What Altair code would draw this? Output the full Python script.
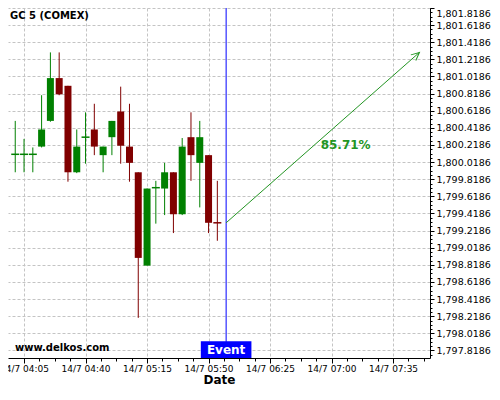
import altair as alt
import pandas as pd

# ---------------- data ----------------
times = ["04:00", "04:05", "04:10", "04:15", "04:20", "04:25", "04:30", "04:35",
         "04:40", "04:45", "04:50", "04:55", "05:00", "05:05", "05:10", "05:15",
         "05:20", "05:25", "05:30", "05:35", "05:40", "05:45", "05:50", "05:55"]
opens = [1800.11, 1800.11, 1800.11, 1800.20, 1800.50, 1801.00, 1800.91, 1799.90,
         1800.31, 1800.40, 1800.10, 1800.31, 1800.61, 1800.20, 1799.90, 1798.81,
         1799.72, 1799.71, 1799.90, 1799.41, 1800.31, 1800.01, 1800.10, 1799.31]
highs = [1800.50, 1800.29, 1800.19, 1800.80, 1801.30, 1801.30, 1800.91, 1800.40,
         1800.60, 1800.70, 1800.20, 1800.50, 1800.90, 1800.70, 1799.90, 1799.71,
         1799.80, 1800.01, 1799.90, 1800.30, 1800.60, 1800.50, 1800.10, 1799.80]
lows = [1799.90, 1799.90, 1799.90, 1800.19, 1800.49, 1800.80, 1799.79, 1799.89,
        1800.00, 1800.10, 1799.90, 1800.10, 1800.00, 1799.79, 1798.20, 1798.81,
        1799.30, 1799.40, 1799.19, 1799.40, 1799.80, 1799.49, 1799.19, 1799.10]
closes = [1800.11, 1800.11, 1800.11, 1800.40, 1801.00, 1800.81, 1799.90, 1800.20,
          1800.31, 1800.20, 1800.20, 1800.50, 1800.21, 1800.01, 1798.90, 1799.71,
          1799.72, 1799.90, 1799.41, 1800.20, 1800.10, 1800.31, 1799.31, 1799.31]
directions = ["up", "up", "up", "up", "up", "down", "down", "up",
              "up", "down", "up", "up", "down", "down", "down", "up",
              "up", "up", "down", "up", "down", "up", "down", "down"]

event_time = "06:00"
arrow_times = ["06:00", "07:50"]
arrow_prices = [1799.31, 1801.30]
pct_text = "85.71%"
pct_time = "07:08"
pct_price = 1800.214
title_text = "GC 5 (COMEX)"
watermark_text = "www.delkos.com"
event_text = "Event"

y_major = [1797.8186 + 0.2 * i for i in range(21)]
y_minor = [1797.7686 + 0.05 * i for i in range(82)]
x_major = [245, 280, 315, 350, 385, 420, 455]
x_minor = [245 + 8.75 * k for k in range(27)]


def to_min(s):
    h, m = s.split(":")
    return int(h) * 60 + int(m)


candles = pd.DataFrame({
    "t": [to_min(s) for s in times],
    "o": opens, "h": highs, "l": lows, "c": closes, "d": directions,
})
event_df = pd.DataFrame({"t": [to_min(event_time)]})
arrow_df = pd.DataFrame({"t": [to_min(s) for s in arrow_times], "p": arrow_prices})
head_df = arrow_df.tail(1)
pct_df = pd.DataFrame({"t": [to_min(pct_time)], "p": [pct_price], "label": [pct_text]})
title_df = pd.DataFrame({"label": [title_text]})
wm_df = pd.DataFrame({"label": [watermark_text]})

# ---------------- styling ----------------
W, H = 422, 350
GREEN = "#008000"
RED = "#800000"
ARROW = "#239523"
FONT = "DejaVu Sans"
GRID = "#c4c4c4"

xs = alt.Scale(domain=[238.72, 473.17], nice=False, zero=False)
ys = alt.Scale(domain=[1797.731, 1801.8186], nice=False, zero=False)
cs = alt.Scale(domain=["up", "down"], range=[GREEN, RED])

label_expr = ("'14/7 ' + (floor(datum.value/60) < 10 ? '0' : '') + floor(datum.value/60)"
              " + ':' + (round(datum.value % 60) < 10 ? '0' : '') + round(datum.value % 60)")

x_axis_major = alt.Axis(orient="bottom", values=x_major, labelExpr=label_expr,
                        grid=True, gridDash=[3, 2], gridColor=GRID, gridWidth=1,
                        tickSize=5, tickColor="black", domainColor="black",
                        labelFont=FONT, labelFontSize=9, labelColor="black",
                        labelPadding=1, labelOverlap=False, labelFlush=False,
                        title="Date", titleFont=FONT, titleFontSize=12,
                        titleFontWeight="bold", titleColor="black", titlePadding=1)
x_axis_minor = alt.Axis(orient="bottom", values=x_minor, labels=False, grid=False,
                        domain=False, tickSize=3, tickColor="black", title=None)
y_axis_major = alt.Axis(orient="right", values=y_major, format=",.4f",
                        grid=True, gridDash=[3, 2], gridColor=GRID, gridWidth=1,
                        tickSize=4, tickColor="black", domainColor="black",
                        labelFont=FONT, labelFontSize=9.5, labelColor="black",
                        labelPadding=2, labelOverlap=False, labelFlush=True,
                        title=None)
y_axis_minor = alt.Axis(orient="right", values=y_minor, labels=False, grid=False,
                        domain=False, tickSize=2, tickColor="black", title=None)

base = alt.Chart(candles)

wicks = base.mark_rule(strokeWidth=1).encode(
    x=alt.X("t:Q", scale=xs, axis=x_axis_major),
    y=alt.Y("l:Q", scale=ys, axis=y_axis_major),
    y2="h:Q",
    color=alt.Color("d:N", scale=cs, legend=None),
)
bodies = base.mark_bar(size=7).encode(
    x=alt.X("t:Q", scale=xs, axis=x_axis_minor),
    y=alt.Y("o:Q", scale=ys, axis=y_axis_minor),
    y2="c:Q",
    color=alt.Color("d:N", scale=cs, legend=None),
)
dojis = base.mark_tick(orient="horizontal", size=8, thickness=1.5, opacity=1).encode(
    x=alt.X("t:Q", scale=xs, axis=None),
    y=alt.Y("o:Q", scale=ys, axis=None),
    color=alt.Color("d:N", scale=cs, legend=None),
).transform_filter("datum.o == datum.c")

event_rule = alt.Chart(event_df).mark_rule(color="#0000ff", strokeWidth=1).encode(
    x=alt.X("t:Q", scale=xs, axis=None),
)

arrow_line = alt.Chart(arrow_df).mark_line(color=ARROW, strokeWidth=1).encode(
    x=alt.X("t:Q", scale=xs, axis=None),
    y=alt.Y("p:Q", scale=ys, axis=None),
)
arrow_head = alt.Chart(head_df).mark_point(
    shape="M-0.42,0.9L0,0L0.42,0.9", size=324, filled=False, color=ARROW,
    strokeWidth=1, angle=49, opacity=1,
).encode(
    x=alt.X("t:Q", scale=xs, axis=None),
    y=alt.Y("p:Q", scale=ys, axis=None),
)
pct_label = alt.Chart(pct_df).mark_text(
    font=FONT, fontSize=12, fontWeight="bold", color=ARROW, align="center", baseline="middle",
).encode(
    x=alt.X("t:Q", scale=xs, axis=None),
    y=alt.Y("p:Q", scale=ys, axis=None),
    text="label:N",
)

event_box = alt.Chart(event_df).mark_point(
    shape="M-1,-0.33L1,-0.33L1,0.33L-1,0.33Z", size=2560, filled=True,
    color="#0000ff", strokeWidth=0, opacity=1,
).encode(
    x=alt.X("t:Q", scale=xs, axis=None),
    y=alt.value(H - 8.3),
)
event_label = alt.Chart(event_df).mark_text(
    text=event_text, font=FONT, fontSize=12, fontWeight="bold", color="white",
    align="center", baseline="middle",
).encode(
    x=alt.X("t:Q", scale=xs, axis=None),
    y=alt.value(H - 7.8),
)

title_mark = alt.Chart(title_df).mark_text(
    font=FONT, fontSize=10, fontWeight="bold", color="black", align="left", baseline="middle",
).encode(x=alt.value(2), y=alt.value(8), text="label:N")

wm_mark = alt.Chart(wm_df).mark_text(
    font=FONT, fontSize=10, fontWeight="bold", color="black", align="left", baseline="middle",
).encode(x=alt.value(7), y=alt.value(H - 10), text="label:N")

chart = alt.layer(
    wicks, bodies, dojis, event_rule, arrow_line, arrow_head, pct_label,
    event_box, event_label, title_mark, wm_mark,
).resolve_axis(
    x="independent", y="independent"
).properties(
    width=W, height=H,
    autosize=alt.AutoSizeParams(type="none"),
    padding={"left": 0, "top": 0, "right": 62, "bottom": 28},
    background="white",
).configure_view(strokeWidth=0)

chart.save("out.html", embed_options={"renderer": "svg", "actions": False})
